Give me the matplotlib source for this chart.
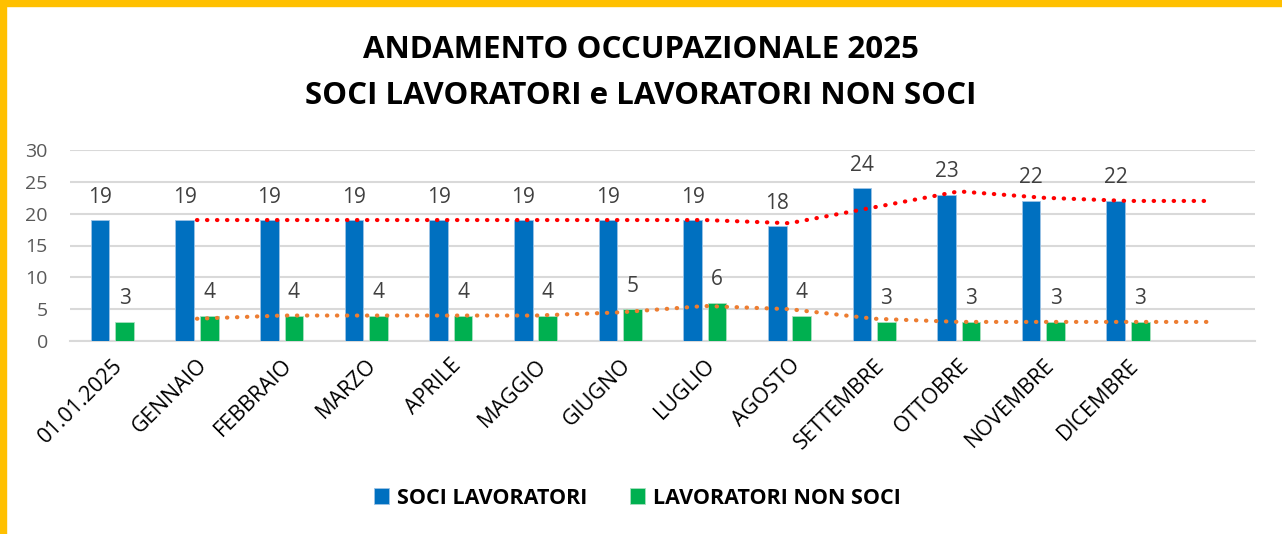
import matplotlib.pyplot as plt
import numpy as np
import pandas as pd
from matplotlib.patches import Rectangle

plt.rcParams['font.family'] = ['Open Sans', 'DejaVu Sans']

categories = ['01.01.2025', 'GENNAIO', 'FEBBRAIO', 'MARZO', 'APRILE', 'MAGGIO', 'GIUGNO',
              'LUGLIO', 'AGOSTO', 'SETTEMBRE', 'OTTOBRE', 'NOVEMBRE', 'DICEMBRE', '']
soci = [19, 19, 19, 19, 19, 19, 19, 19, 18, 24, 23, 22, 22, np.nan]
non_soci = [3, 4, 4, 4, 4, 4, 5, 6, 4, 3, 3, 3, 3, np.nan]

df = pd.DataFrame({'cat': categories, 'soci': soci, 'non_soci': non_soci})
# media mobile a 2 periodi (come la linea di tendenza di Excel)
df['ma_soci'] = df['soci'].rolling(2, min_periods=1).mean()
df['ma_non'] = df['non_soci'].rolling(2, min_periods=1).mean()

blue = '#0070C0'
green = '#00B050'
x = np.arange(len(df))

fig = plt.figure(figsize=(12.82, 5.34), dpi=100)
ax = fig.add_axes([70 / 1282, 1 - 341 / 534, 1185 / 1282, 191 / 534])

w = 0.22
off = 0.145
ax.bar(x - off, df['soci'], w, color=blue, edgecolor='#9DC3E6', linewidth=0.6, zorder=3,
       label='SOCI LAVORATORI')
ax.bar(x + off, df['non_soci'], w, color=green, edgecolor='#A9E0C0', linewidth=0.6, zorder=3,
       label='LAVORATORI NON SOCI')

for i, row in df.iterrows():
    if not np.isnan(row['soci']):
        ax.annotate(f"{int(row['soci'])}", (i - off, row['soci']), xytext=(0, 9),
                    textcoords='offset points', ha='center', va='bottom', fontsize=15, color='#404040')
        ax.annotate(f"{int(row['non_soci'])}", (i + off, row['non_soci']), xytext=(0, 9),
                    textcoords='offset points', ha='center', va='bottom', fontsize=15, color='#404040')

ax.plot(x[1:], df['ma_soci'][1:], color='#FF0000', linestyle=(0, (0.1, 2.3)), linewidth=3,
        dash_capstyle='round', zorder=4)
ax.plot(x[1:], df['ma_non'][1:], color='#ED7D31', linestyle=(0, (0.1, 2.3)), linewidth=3,
        dash_capstyle='round', zorder=4)

ax.set_xlim(-0.5, len(df) - 0.5)
ax.set_ylim(0, 30)
ax.set_yticks(range(0, 31, 5))
ax.set_xticks(x)
ax.set_xticklabels(categories, rotation=45, ha='right', rotation_mode='anchor', fontsize=15.5)
ax.tick_params(axis='y', labelsize=14, labelcolor='#595959', length=0, pad=16)
ax.tick_params(axis='x', length=0, pad=10)
ax.grid(axis='y', color='#D9D9D9', linewidth=1.5, zorder=0)
for s in ['top', 'right', 'left']:
    ax.spines[s].set_visible(False)
ax.spines['bottom'].set_color('#D9D9D9')
ax.spines['bottom'].set_linewidth(1.5)

fig.text(0.5, 1 - 50 / 534, 'ANDAMENTO OCCUPAZIONALE 2025', ha='center', va='center',
         fontsize=22.5, fontweight='bold')
fig.text(0.5, 1 - 96 / 534, 'SOCI LAVORATORI e LAVORATORI NON SOCI', ha='center', va='center',
         fontsize=22.5, fontweight='bold')

leg = fig.legend(loc='center', bbox_to_anchor=(0.497, 1 - 498 / 534), ncol=2, frameon=False,
                 prop={'weight': 'bold', 'size': 15.5}, handlelength=0.7, handleheight=0.7,
                 handletextpad=0.35, columnspacing=2.0)

# cornice gialla (sopra e a sinistra)
fig.patches.append(Rectangle((0, 1 - 6 / 534), 1, 6 / 534, transform=fig.transFigure,
                             color='#FFC000', zorder=10))
fig.patches.append(Rectangle((0, 0), 6 / 1282, 1, transform=fig.transFigure,
                             color='#FFC000', zorder=10))

fig.savefig('out.png', dpi=100)
